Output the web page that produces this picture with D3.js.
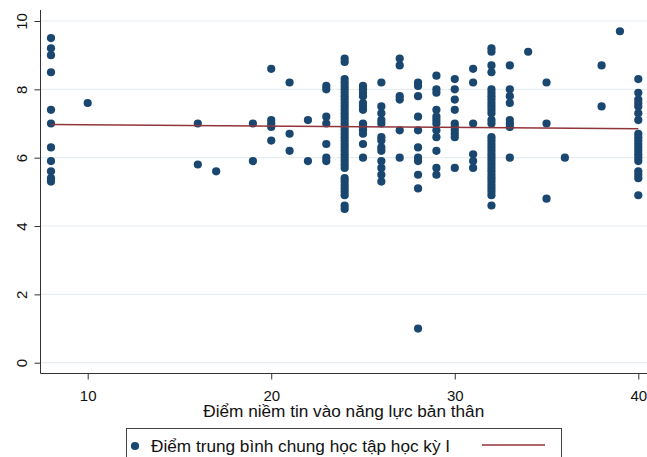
<!DOCTYPE html>
<html>
<head>
<meta charset="utf-8">
<script src="https://cdn.jsdelivr.net/npm/d3@7"></script>
<style>
  body { margin: 0; background: #fff; }
  svg { display: block; font-family: "Liberation Sans", Arial, sans-serif; }
</style>
</head>
<body>
<div id="chart"></div>
<script>
// niem tin score (x) and the GPA values seen at each score
const scores = [8, 10, 16, 17, 19, 20, 21, 22, 23, 24, 25, 26, 27, 28, 29, 30, 31, 32, 33, 34, 35, 36, 38, 39, 40];
const gpaAtScore = [
  [9.5, 9.2, 9.0, 8.5, 7.4, 7.0, 6.3, 5.9, 5.6, 5.4, 5.3],
  [7.6],
  [7.0, 5.8],
  [5.6],
  [7.0, 5.9],
  [8.6, 7.1, 7.0, 6.9, 6.5],
  [8.2, 6.7, 6.2],
  [7.1, 5.9],
  [8.1, 8.0, 7.2, 7.0, 6.4, 6.0, 5.9],
  [8.9, 8.8, 8.3, 8.2, 8.1, 8.0, 7.9, 7.8, 7.7, 7.6, 7.5, 7.4, 7.3, 7.2, 7.1, 7.0, 6.9, 6.8, 6.7, 6.6, 6.5, 6.4, 6.3, 6.2, 6.1, 6.0, 5.9, 5.8, 5.7, 5.4, 5.3, 5.2, 5.1, 5.0, 4.9, 4.6, 4.5],
  [8.1, 8.0, 7.9, 7.8, 7.6, 7.5, 7.4, 7.0, 6.9, 6.8, 6.7, 6.4, 6.0],
  [8.2, 7.5, 7.3, 7.1, 7.0, 6.6, 6.5, 6.3, 6.2, 5.9, 5.7, 5.5, 5.3],
  [8.9, 8.7, 7.8, 7.7, 6.8, 6.0],
  [8.2, 8.1, 7.8, 7.2, 6.8, 6.3, 6.0, 5.9, 5.5, 5.1, 1.0],
  [8.4, 8.0, 7.9, 7.4, 7.2, 7.1, 7.0, 6.8, 6.6, 6.2, 5.7, 5.5],
  [8.3, 8.0, 7.7, 7.4, 7.0, 6.9, 6.8, 6.7, 6.6, 5.7],
  [8.6, 8.2, 7.0, 6.1, 5.9, 5.7],
  [9.2, 9.1, 8.7, 8.5, 8.0, 7.9, 7.8, 7.7, 7.6, 7.5, 7.4, 7.3, 7.1, 7.0, 6.6, 6.5, 6.4, 6.3, 6.2, 6.1, 6.0, 5.9, 5.8, 5.7, 5.6, 5.5, 5.4, 5.3, 5.2, 5.1, 5.0, 4.9, 4.6],
  [8.7, 8.0, 7.8, 7.6, 7.1, 7.0, 6.9, 6.0],
  [9.1],
  [8.2, 7.0, 4.8],
  [6.0],
  [8.7, 7.5],
  [9.7],
  [8.3, 7.9, 7.7, 7.6, 7.5, 7.3, 7.1, 6.7, 6.6, 6.5, 6.4, 6.3, 6.2, 6.1, 6.0, 5.9, 5.6, 5.5, 5.4, 4.9]
];
// fitted line (lfit) end points
const fitX = [8, 40];
const fitY = [6.97, 6.85];

const xTicks = [10, 20, 30, 40];
const yTicks = [0, 2, 4, 6, 8, 10];
const xTitle = "Điểm niềm tin vào năng lực bản thân";
const legendLabel = "Điểm trung bình chung học tập học kỳ I";

const W = 647, H = 457;
const plot = { left: 40.5, right: 647, top: 10, bottom: 373.5 };

const svg = d3.select("#chart").append("svg")
    .attr("width", W)
    .attr("height", H);

const x = d3.scaleLinear().domain([10, 40]).range([87.7, 638.3]);
const y = d3.scaleLinear().domain([0, 10]).range([362.7, 21]);

const points = [];
scores.forEach((s, i) => gpaAtScore[i].forEach(v => points.push({ x: s, y: v })));

// grid lines
svg.append("g")
    .selectAll("line")
    .data(yTicks)
    .join("line")
    .attr("x1", plot.left)
    .attr("x2", plot.right)
    .attr("y1", d => y(d))
    .attr("y2", d => y(d))
    .attr("stroke", "#e6eef1")
    .attr("stroke-width", 1.2);

// axes
const yAxis = svg.append("g")
    .attr("transform", `translate(${plot.left},0)`)
    .call(d3.axisLeft(y).tickValues(yTicks).tickSize(6).tickSizeOuter(0));
yAxis.select(".domain").remove();
yAxis.append("line")
    .attr("y1", plot.top).attr("y2", plot.bottom)
    .attr("stroke", "#333");
yAxis.selectAll(".tick line").attr("stroke", "#333");
yAxis.selectAll(".tick text")
    .attr("x", null).attr("dy", null)
    .attr("text-anchor", "middle")
    .attr("transform", "translate(-14,0) rotate(-90)")
    .attr("fill", "#111")
    .style("font-size", "15px");

const xAxis = svg.append("g")
    .attr("transform", `translate(0,${plot.bottom})`)
    .call(d3.axisBottom(x).tickValues(xTicks).tickSize(6).tickSizeOuter(0));
xAxis.select(".domain").remove();
xAxis.append("line")
    .attr("x1", plot.left).attr("x2", plot.right)
    .attr("stroke", "#333");
xAxis.selectAll(".tick line").attr("stroke", "#333");
xAxis.selectAll(".tick text")
    .attr("y", 27).attr("dy", null)
    .attr("fill", "#111")
    .style("font-size", "15px");

// scatter
svg.append("g")
    .selectAll("circle")
    .data(points)
    .join("circle")
    .attr("cx", d => x(d.x))
    .attr("cy", d => y(d.y))
    .attr("r", 4.1)
    .attr("fill", "#1a476f");

// fitted line
svg.append("line")
    .attr("x1", x(fitX[0])).attr("y1", y(fitY[0]))
    .attr("x2", x(fitX[1])).attr("y2", y(fitY[1]))
    .attr("stroke", "#90353b")
    .attr("stroke-width", 1.5);

// x title
svg.append("text")
    .attr("x", (plot.left + plot.right) / 2)
    .attr("y", 416.5)
    .attr("text-anchor", "middle")
    .attr("fill", "#111")
    .style("font-size", "17.2px")
    .text(xTitle);

// legend (box runs past the bottom edge)
const lg = svg.append("g");
lg.append("rect")
    .attr("x", 126.5).attr("y", 428.5)
    .attr("width", 435).attr("height", 60)
    .attr("fill", "#fff")
    .attr("stroke", "#444");
lg.append("circle")
    .attr("cx", 135).attr("cy", 446)
    .attr("r", 4.1)
    .attr("fill", "#1a476f");
lg.append("text")
    .attr("x", 151).attr("y", 451.5)
    .attr("fill", "#111")
    .style("font-size", "17.2px")
    .text(legendLabel);
lg.append("line")
    .attr("x1", 482).attr("x2", 545)
    .attr("y1", 445).attr("y2", 445)
    .attr("stroke", "#90353b")
    .attr("stroke-width", 1.5);
</script>
</body>
</html>
